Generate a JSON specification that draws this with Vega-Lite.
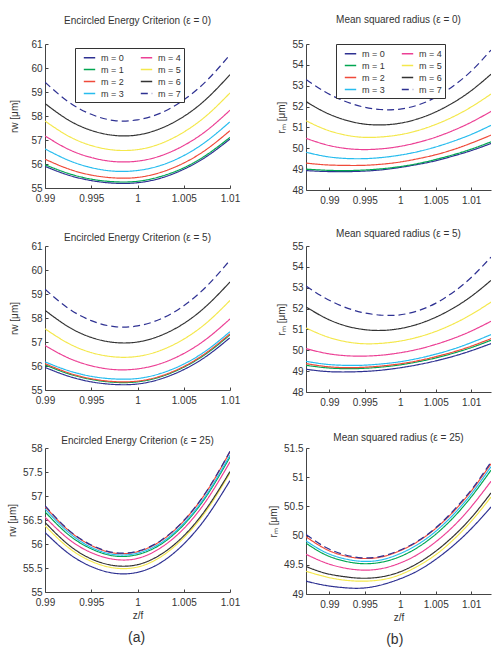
{
"$schema": "https://vega.github.io/schema/vega-lite/v6.json",
"padding": {"left": 7, "top": 15, "right": 5, "bottom": 3},
"spacing": 28,
"datasets": {
"a0": [
{"m":0,"x":0.99,"y":55.90},{"m":0,"x":0.9925,"y":55.54},{"m":0,"x":0.995,"y":55.31},{"m":0,"x":0.9975,"y":55.20},{"m":0,"x":1,"y":55.22},{"m":0,"x":1.0025,"y":55.41},{"m":0,"x":1.005,"y":55.78},{"m":0,"x":1.0075,"y":56.32},{"m":0,"x":1.01,"y":57.04},
{"m":1,"x":0.99,"y":55.97},{"m":1,"x":0.9925,"y":55.61},{"m":1,"x":0.995,"y":55.37},{"m":1,"x":0.9975,"y":55.26},{"m":1,"x":1,"y":55.28},{"m":1,"x":1.0025,"y":55.48},{"m":1,"x":1.005,"y":55.84},{"m":1,"x":1.0075,"y":56.39},{"m":1,"x":1.01,"y":57.11},
{"m":2,"x":0.99,"y":56.20},{"m":2,"x":0.9925,"y":55.80},{"m":2,"x":0.995,"y":55.54},{"m":2,"x":0.9975,"y":55.42},{"m":2,"x":1,"y":55.44},{"m":2,"x":1.0025,"y":55.65},{"m":2,"x":1.005,"y":56.04},{"m":2,"x":1.0075,"y":56.62},{"m":2,"x":1.01,"y":57.39},
{"m":3,"x":0.99,"y":56.63},{"m":3,"x":0.9925,"y":56.16},{"m":3,"x":0.995,"y":55.85},{"m":3,"x":0.9975,"y":55.70},{"m":3,"x":1,"y":55.73},{"m":3,"x":1.0025,"y":55.94},{"m":3,"x":1.005,"y":56.35},{"m":3,"x":1.0075,"y":56.96},{"m":3,"x":1.01,"y":57.76},
{"m":4,"x":0.99,"y":57.17},{"m":4,"x":0.9925,"y":56.62},{"m":4,"x":0.995,"y":56.27},{"m":4,"x":0.9975,"y":56.10},{"m":4,"x":1,"y":56.12},{"m":4,"x":1.0025,"y":56.34},{"m":4,"x":1.005,"y":56.77},{"m":4,"x":1.0075,"y":57.40},{"m":4,"x":1.01,"y":58.24},
{"m":5,"x":0.99,"y":57.79},{"m":5,"x":0.9925,"y":57.17},{"m":5,"x":0.995,"y":56.77},{"m":5,"x":0.9975,"y":56.58},{"m":5,"x":1,"y":56.60},{"m":5,"x":1.0025,"y":56.85},{"m":5,"x":1.005,"y":57.33},{"m":5,"x":1.0075,"y":58.03},{"m":5,"x":1.01,"y":58.96},
{"m":6,"x":0.99,"y":58.52},{"m":6,"x":0.9925,"y":57.84},{"m":6,"x":0.995,"y":57.40},{"m":6,"x":0.9975,"y":57.19},{"m":6,"x":1,"y":57.21},{"m":6,"x":1.0025,"y":57.48},{"m":6,"x":1.005,"y":57.98},{"m":6,"x":1.0075,"y":58.73},{"m":6,"x":1.01,"y":59.72},
{"m":7,"x":0.99,"y":59.41},{"m":7,"x":0.9925,"y":58.60},{"m":7,"x":0.995,"y":58.07},{"m":7,"x":0.9975,"y":57.81},{"m":7,"x":1,"y":57.84},{"m":7,"x":1.0025,"y":58.12},{"m":7,"x":1.005,"y":58.67},{"m":7,"x":1.0075,"y":59.48},{"m":7,"x":1.01,"y":60.55}
],
"a5": [
{"m":0,"x":0.99,"y":55.94},{"m":0,"x":0.9925,"y":55.58},{"m":0,"x":0.995,"y":55.34},{"m":0,"x":0.9975,"y":55.23},{"m":0,"x":1,"y":55.25},{"m":0,"x":1.0025,"y":55.46},{"m":0,"x":1.005,"y":55.85},{"m":0,"x":1.0075,"y":56.42},{"m":0,"x":1.01,"y":57.18},
{"m":1,"x":0.99,"y":56.05},{"m":1,"x":0.9925,"y":55.68},{"m":1,"x":0.995,"y":55.44},{"m":1,"x":0.9975,"y":55.32},{"m":1,"x":1,"y":55.34},{"m":1,"x":1.0025,"y":55.55},{"m":1,"x":1.005,"y":55.95},{"m":1,"x":1.0075,"y":56.53},{"m":1,"x":1.01,"y":57.30},
{"m":2,"x":0.99,"y":56.10},{"m":2,"x":0.9925,"y":55.72},{"m":2,"x":0.995,"y":55.47},{"m":2,"x":0.9975,"y":55.35},{"m":2,"x":1,"y":55.37},{"m":2,"x":1.0025,"y":55.58},{"m":2,"x":1.005,"y":55.98},{"m":2,"x":1.0075,"y":56.57},{"m":2,"x":1.01,"y":57.34},
{"m":3,"x":0.99,"y":56.17},{"m":3,"x":0.9925,"y":55.81},{"m":3,"x":0.995,"y":55.57},{"m":3,"x":0.9975,"y":55.46},{"m":3,"x":1,"y":55.48},{"m":3,"x":1.0025,"y":55.69},{"m":3,"x":1.005,"y":56.08},{"m":3,"x":1.0075,"y":56.66},{"m":3,"x":1.01,"y":57.43},
{"m":4,"x":0.99,"y":56.85},{"m":4,"x":0.9925,"y":56.34},{"m":4,"x":0.995,"y":56.01},{"m":4,"x":0.9975,"y":55.85},{"m":4,"x":1,"y":55.88},{"m":4,"x":1.0025,"y":56.10},{"m":4,"x":1.005,"y":56.52},{"m":4,"x":1.0075,"y":57.14},{"m":4,"x":1.01,"y":57.96},
{"m":5,"x":0.99,"y":57.55},{"m":5,"x":0.9925,"y":56.95},{"m":5,"x":0.995,"y":56.56},{"m":5,"x":0.9975,"y":56.38},{"m":5,"x":1,"y":56.40},{"m":5,"x":1.0025,"y":56.65},{"m":5,"x":1.005,"y":57.12},{"m":5,"x":1.0075,"y":57.81},{"m":5,"x":1.01,"y":58.73},
{"m":6,"x":0.99,"y":58.32},{"m":6,"x":0.9925,"y":57.64},{"m":6,"x":0.995,"y":57.19},{"m":6,"x":0.9975,"y":56.98},{"m":6,"x":1,"y":57.00},{"m":6,"x":1.0025,"y":57.27},{"m":6,"x":1.005,"y":57.77},{"m":6,"x":1.0075,"y":58.52},{"m":6,"x":1.01,"y":59.50},
{"m":7,"x":0.99,"y":59.20},{"m":7,"x":0.9925,"y":58.41},{"m":7,"x":0.995,"y":57.89},{"m":7,"x":0.9975,"y":57.64},{"m":7,"x":1,"y":57.67},{"m":7,"x":1.0025,"y":57.96},{"m":7,"x":1.005,"y":58.51},{"m":7,"x":1.0075,"y":59.33},{"m":7,"x":1.01,"y":60.41}
],
"a25": [
{"m":0,"x":0.99,"y":56.24},{"m":0,"x":0.9925,"y":55.81},{"m":0,"x":0.995,"y":55.53},{"m":0,"x":0.9975,"y":55.39},{"m":0,"x":1,"y":55.41},{"m":0,"x":1.0025,"y":55.61},{"m":0,"x":1.005,"y":56.00},{"m":0,"x":1.0075,"y":56.57},{"m":0,"x":1.01,"y":57.32},
{"m":1,"x":0.99,"y":56.67},{"m":1,"x":0.9925,"y":56.20},{"m":1,"x":0.995,"y":55.90},{"m":1,"x":0.9975,"y":55.75},{"m":1,"x":1,"y":55.78},{"m":1,"x":1.0025,"y":55.99},{"m":1,"x":1.005,"y":56.40},{"m":1,"x":1.0075,"y":57.01},{"m":1,"x":1.01,"y":57.81},
{"m":2,"x":0.99,"y":56.78},{"m":2,"x":0.9925,"y":56.29},{"m":2,"x":0.995,"y":55.97},{"m":2,"x":0.9975,"y":55.81},{"m":2,"x":1,"y":55.84},{"m":2,"x":1.0025,"y":56.06},{"m":2,"x":1.005,"y":56.48},{"m":2,"x":1.0075,"y":57.10},{"m":2,"x":1.01,"y":57.92},
{"m":3,"x":0.99,"y":56.73},{"m":3,"x":0.9925,"y":56.25},{"m":3,"x":0.995,"y":55.93},{"m":3,"x":0.9975,"y":55.78},{"m":3,"x":1,"y":55.81},{"m":3,"x":1.0025,"y":56.02},{"m":3,"x":1.005,"y":56.43},{"m":3,"x":1.0075,"y":57.04},{"m":3,"x":1.01,"y":57.85},
{"m":4,"x":0.99,"y":56.56},{"m":4,"x":0.9925,"y":56.11},{"m":4,"x":0.995,"y":55.82},{"m":4,"x":0.9975,"y":55.68},{"m":4,"x":1,"y":55.70},{"m":4,"x":1.0025,"y":55.92},{"m":4,"x":1.005,"y":56.32},{"m":4,"x":1.0075,"y":56.92},{"m":4,"x":1.01,"y":57.71},
{"m":5,"x":0.99,"y":56.38},{"m":5,"x":0.9925,"y":55.93},{"m":5,"x":0.995,"y":55.64},{"m":5,"x":0.9975,"y":55.50},{"m":5,"x":1,"y":55.52},{"m":5,"x":1.0025,"y":55.73},{"m":5,"x":1.005,"y":56.13},{"m":5,"x":1.0075,"y":56.71},{"m":5,"x":1.01,"y":57.48},
{"m":6,"x":0.99,"y":56.45},{"m":6,"x":0.9925,"y":55.99},{"m":6,"x":0.995,"y":55.69},{"m":6,"x":0.9975,"y":55.55},{"m":6,"x":1,"y":55.57},{"m":6,"x":1.0025,"y":55.78},{"m":6,"x":1.005,"y":56.17},{"m":6,"x":1.0075,"y":56.75},{"m":6,"x":1.01,"y":57.51},
{"m":7,"x":0.99,"y":56.80},{"m":7,"x":0.9925,"y":56.30},{"m":7,"x":0.995,"y":55.98},{"m":7,"x":0.9975,"y":55.82},{"m":7,"x":1,"y":55.85},{"m":7,"x":1.0025,"y":56.07},{"m":7,"x":1.005,"y":56.49},{"m":7,"x":1.0075,"y":57.11},{"m":7,"x":1.01,"y":57.93}
],
"b0": [
{"m":0,"x":0.9867,"y":48.93},{"m":0,"x":0.98931,"y":48.89},{"m":0,"x":0.99192,"y":48.88},{"m":0,"x":0.99453,"y":48.90},{"m":0,"x":0.99714,"y":48.96},{"m":0,"x":0.99975,"y":49.07},{"m":0,"x":1.00236,"y":49.22},{"m":0,"x":1.00497,"y":49.40},{"m":0,"x":1.00758,"y":49.64},{"m":0,"x":1.01019,"y":49.91},{"m":0,"x":1.0128,"y":50.23},
{"m":1,"x":0.9867,"y":49.00},{"m":1,"x":0.98931,"y":48.95},{"m":1,"x":0.99192,"y":48.93},{"m":1,"x":0.99453,"y":48.95},{"m":1,"x":0.99714,"y":49.01},{"m":1,"x":0.99975,"y":49.11},{"m":1,"x":1.00236,"y":49.26},{"m":1,"x":1.00497,"y":49.46},{"m":1,"x":1.00758,"y":49.70},{"m":1,"x":1.01019,"y":49.98},{"m":1,"x":1.0128,"y":50.31},
{"m":2,"x":0.9867,"y":49.29},{"m":2,"x":0.98931,"y":49.21},{"m":2,"x":0.99192,"y":49.18},{"m":2,"x":0.99453,"y":49.18},{"m":2,"x":0.99714,"y":49.23},{"m":2,"x":0.99975,"y":49.33},{"m":2,"x":1.00236,"y":49.49},{"m":2,"x":1.00497,"y":49.69},{"m":2,"x":1.00758,"y":49.95},{"m":2,"x":1.01019,"y":50.27},{"m":2,"x":1.0128,"y":50.63},
{"m":3,"x":0.9867,"y":49.81},{"m":3,"x":0.98931,"y":49.62},{"m":3,"x":0.99192,"y":49.52},{"m":3,"x":0.99453,"y":49.50},{"m":3,"x":0.99714,"y":49.55},{"m":3,"x":0.99975,"y":49.66},{"m":3,"x":1.00236,"y":49.83},{"m":3,"x":1.00497,"y":50.06},{"m":3,"x":1.00758,"y":50.35},{"m":3,"x":1.01019,"y":50.69},{"m":3,"x":1.0128,"y":51.10},
{"m":4,"x":0.9867,"y":50.48},{"m":4,"x":0.98931,"y":50.19},{"m":4,"x":0.99192,"y":50.01},{"m":4,"x":0.99453,"y":49.94},{"m":4,"x":0.99714,"y":49.97},{"m":4,"x":0.99975,"y":50.08},{"m":4,"x":1.00236,"y":50.27},{"m":4,"x":1.00497,"y":50.53},{"m":4,"x":1.00758,"y":50.87},{"m":4,"x":1.01019,"y":51.28},{"m":4,"x":1.0128,"y":51.77},
{"m":5,"x":0.9867,"y":51.32},{"m":5,"x":0.98931,"y":50.92},{"m":5,"x":0.99192,"y":50.66},{"m":5,"x":0.99453,"y":50.53},{"m":5,"x":0.99714,"y":50.54},{"m":5,"x":0.99975,"y":50.64},{"m":5,"x":1.00236,"y":50.84},{"m":5,"x":1.00497,"y":51.14},{"m":5,"x":1.00758,"y":51.53},{"m":5,"x":1.01019,"y":52.02},{"m":5,"x":1.0128,"y":52.60},
{"m":6,"x":0.9867,"y":52.24},{"m":6,"x":0.98931,"y":51.74},{"m":6,"x":0.99192,"y":51.39},{"m":6,"x":0.99453,"y":51.18},{"m":6,"x":0.99714,"y":51.12},{"m":6,"x":0.99975,"y":51.19},{"m":6,"x":1.00236,"y":51.40},{"m":6,"x":1.00497,"y":51.74},{"m":6,"x":1.00758,"y":52.21},{"m":6,"x":1.01019,"y":52.81},{"m":6,"x":1.0128,"y":53.55},
{"m":7,"x":0.9867,"y":53.30},{"m":7,"x":0.98931,"y":52.72},{"m":7,"x":0.99192,"y":52.29},{"m":7,"x":0.99453,"y":52.00},{"m":7,"x":0.99714,"y":51.86},{"m":7,"x":0.99975,"y":51.87},{"m":7,"x":1.00236,"y":52.06},{"m":7,"x":1.00497,"y":52.44},{"m":7,"x":1.00758,"y":53.01},{"m":7,"x":1.01019,"y":53.76},{"m":7,"x":1.0128,"y":54.71}
],
"b5": [
{"m":0,"x":0.9867,"y":49.09},{"m":0,"x":0.98931,"y":48.99},{"m":0,"x":0.99192,"y":48.96},{"m":0,"x":0.99453,"y":48.98},{"m":0,"x":0.99714,"y":49.04},{"m":0,"x":0.99975,"y":49.15},{"m":0,"x":1.00236,"y":49.30},{"m":0,"x":1.00497,"y":49.49},{"m":0,"x":1.00758,"y":49.72},{"m":0,"x":1.01019,"y":50.00},{"m":0,"x":1.0128,"y":50.32},
{"m":1,"x":0.9867,"y":49.28},{"m":1,"x":0.98931,"y":49.17},{"m":1,"x":0.99192,"y":49.12},{"m":1,"x":0.99453,"y":49.13},{"m":1,"x":0.99714,"y":49.19},{"m":1,"x":0.99975,"y":49.29},{"m":1,"x":1.00236,"y":49.44},{"m":1,"x":1.00497,"y":49.63},{"m":1,"x":1.00758,"y":49.87},{"m":1,"x":1.01019,"y":50.15},{"m":1,"x":1.0128,"y":50.48},
{"m":2,"x":0.9867,"y":49.36},{"m":2,"x":0.98931,"y":49.23},{"m":2,"x":0.99192,"y":49.17},{"m":2,"x":0.99453,"y":49.18},{"m":2,"x":0.99714,"y":49.24},{"m":2,"x":0.99975,"y":49.34},{"m":2,"x":1.00236,"y":49.49},{"m":2,"x":1.00497,"y":49.69},{"m":2,"x":1.00758,"y":49.93},{"m":2,"x":1.01019,"y":50.22},{"m":2,"x":1.0128,"y":50.56},
{"m":3,"x":0.9867,"y":49.47},{"m":3,"x":0.98931,"y":49.34},{"m":3,"x":0.99192,"y":49.28},{"m":3,"x":0.99453,"y":49.28},{"m":3,"x":0.99714,"y":49.34},{"m":3,"x":0.99975,"y":49.44},{"m":3,"x":1.00236,"y":49.60},{"m":3,"x":1.00497,"y":49.81},{"m":3,"x":1.00758,"y":50.07},{"m":3,"x":1.01019,"y":50.39},{"m":3,"x":1.0128,"y":50.75},
{"m":4,"x":0.9867,"y":50.08},{"m":4,"x":0.98931,"y":49.87},{"m":4,"x":0.99192,"y":49.75},{"m":4,"x":0.99453,"y":49.72},{"m":4,"x":0.99714,"y":49.76},{"m":4,"x":0.99975,"y":49.87},{"m":4,"x":1.00236,"y":50.04},{"m":4,"x":1.00497,"y":50.28},{"m":4,"x":1.00758,"y":50.58},{"m":4,"x":1.01019,"y":50.95},{"m":4,"x":1.0128,"y":51.39},
{"m":5,"x":0.9867,"y":51.07},{"m":5,"x":0.98931,"y":50.69},{"m":5,"x":0.99192,"y":50.44},{"m":5,"x":0.99453,"y":50.32},{"m":5,"x":0.99714,"y":50.33},{"m":5,"x":0.99975,"y":50.43},{"m":5,"x":1.00236,"y":50.62},{"m":5,"x":1.00497,"y":50.90},{"m":5,"x":1.00758,"y":51.28},{"m":5,"x":1.01019,"y":51.75},{"m":5,"x":1.0128,"y":52.31},
{"m":6,"x":0.9867,"y":52.08},{"m":6,"x":0.98931,"y":51.57},{"m":6,"x":0.99192,"y":51.21},{"m":6,"x":0.99453,"y":51.01},{"m":6,"x":0.99714,"y":50.95},{"m":6,"x":0.99975,"y":51.03},{"m":6,"x":1.00236,"y":51.24},{"m":6,"x":1.00497,"y":51.58},{"m":6,"x":1.00758,"y":52.04},{"m":6,"x":1.01019,"y":52.63},{"m":6,"x":1.0128,"y":53.35},
{"m":7,"x":0.9867,"y":53.08},{"m":7,"x":0.98931,"y":52.52},{"m":7,"x":0.99192,"y":52.10},{"m":7,"x":0.99453,"y":51.82},{"m":7,"x":0.99714,"y":51.69},{"m":7,"x":0.99975,"y":51.69},{"m":7,"x":1.00236,"y":51.88},{"m":7,"x":1.00497,"y":52.25},{"m":7,"x":1.00758,"y":52.81},{"m":7,"x":1.01019,"y":53.55},{"m":7,"x":1.0128,"y":54.47}
],
"b25": [
{"m":0,"x":0.9867,"y":49.22},{"m":0,"x":0.98931,"y":49.15},{"m":0,"x":0.99192,"y":49.11},{"m":0,"x":0.99453,"y":49.10},{"m":0,"x":0.99714,"y":49.15},{"m":0,"x":0.99975,"y":49.25},{"m":0,"x":1.00236,"y":49.39},{"m":0,"x":1.00497,"y":49.59},{"m":0,"x":1.00758,"y":49.84},{"m":0,"x":1.01019,"y":50.14},{"m":0,"x":1.0128,"y":50.49},
{"m":1,"x":0.9867,"y":49.87},{"m":1,"x":0.98931,"y":49.68},{"m":1,"x":0.99192,"y":49.57},{"m":1,"x":0.99453,"y":49.52},{"m":1,"x":0.99714,"y":49.54},{"m":1,"x":0.99975,"y":49.63},{"m":1,"x":1.00236,"y":49.79},{"m":1,"x":1.00497,"y":50.02},{"m":1,"x":1.00758,"y":50.32},{"m":1,"x":1.01019,"y":50.69},{"m":1,"x":1.0128,"y":51.12},
{"m":2,"x":0.9867,"y":49.98},{"m":2,"x":0.98931,"y":49.78},{"m":2,"x":0.99192,"y":49.66},{"m":2,"x":0.99453,"y":49.61},{"m":2,"x":0.99714,"y":49.63},{"m":2,"x":0.99975,"y":49.73},{"m":2,"x":1.00236,"y":49.89},{"m":2,"x":1.00497,"y":50.12},{"m":2,"x":1.00758,"y":50.42},{"m":2,"x":1.01019,"y":50.79},{"m":2,"x":1.0128,"y":51.23},
{"m":3,"x":0.9867,"y":49.91},{"m":3,"x":0.98931,"y":49.72},{"m":3,"x":0.99192,"y":49.61},{"m":3,"x":0.99453,"y":49.56},{"m":3,"x":0.99714,"y":49.58},{"m":3,"x":0.99975,"y":49.68},{"m":3,"x":1.00236,"y":49.84},{"m":3,"x":1.00497,"y":50.07},{"m":3,"x":1.00758,"y":50.37},{"m":3,"x":1.01019,"y":50.74},{"m":3,"x":1.0128,"y":51.18},
{"m":4,"x":0.9867,"y":49.68},{"m":4,"x":0.98931,"y":49.54},{"m":4,"x":0.99192,"y":49.45},{"m":4,"x":0.99453,"y":49.41},{"m":4,"x":0.99714,"y":49.43},{"m":4,"x":0.99975,"y":49.52},{"m":4,"x":1.00236,"y":49.67},{"m":4,"x":1.00497,"y":49.89},{"m":4,"x":1.00758,"y":50.17},{"m":4,"x":1.01019,"y":50.52},{"m":4,"x":1.0128,"y":50.93},
{"m":5,"x":0.9867,"y":49.39},{"m":5,"x":0.98931,"y":49.30},{"m":5,"x":0.99192,"y":49.24},{"m":5,"x":0.99453,"y":49.22},{"m":5,"x":0.99714,"y":49.24},{"m":5,"x":0.99975,"y":49.32},{"m":5,"x":1.00236,"y":49.47},{"m":5,"x":1.00497,"y":49.67},{"m":5,"x":1.00758,"y":49.94},{"m":5,"x":1.01019,"y":50.27},{"m":5,"x":1.0128,"y":50.66},
{"m":6,"x":0.9867,"y":49.47},{"m":6,"x":0.98931,"y":49.36},{"m":6,"x":0.99192,"y":49.30},{"m":6,"x":0.99453,"y":49.27},{"m":6,"x":0.99714,"y":49.29},{"m":6,"x":0.99975,"y":49.37},{"m":6,"x":1.00236,"y":49.52},{"m":6,"x":1.00497,"y":49.73},{"m":6,"x":1.00758,"y":50.00},{"m":6,"x":1.01019,"y":50.33},{"m":6,"x":1.0128,"y":50.73},
{"m":7,"x":0.9867,"y":50.02},{"m":7,"x":0.98931,"y":49.81},{"m":7,"x":0.99192,"y":49.68},{"m":7,"x":0.99453,"y":49.62},{"m":7,"x":0.99714,"y":49.64},{"m":7,"x":0.99975,"y":49.74},{"m":7,"x":1.00236,"y":49.90},{"m":7,"x":1.00497,"y":50.13},{"m":7,"x":1.00758,"y":50.44},{"m":7,"x":1.01019,"y":50.81},{"m":7,"x":1.0128,"y":51.26}
]
},
"resolve": {"scale": {"color": "independent", "strokeDash": "independent"}},
"hconcat": [
{
"bounds": "flush",
"spacing": 58,
"resolve": {"scale": {"color": "independent", "strokeDash": "independent"}},
"title": {"text": "(a)", "orient": "bottom", "anchor": "middle", "fontSize": 14, "offset": 11, "dx": 13},
"vconcat": [
{
"width": 185, "height": 144,
"title": {"text": "Encircled Energy Criterion (ε = 0)", "frame": "group", "offset": 13},
"data": {"name": "a0"},
"mark": {"type": "line", "interpolate": "natural", "strokeWidth": 1.2, "clip": true},
"encoding": {
"x": {"field": "x", "type": "quantitative", "scale": {"domain": [0.99, 1.01], "nice": false, "zero": false}, "axis": {"values": [0.99, 0.995, 1, 1.005, 1.01], "format": "~f", "title": null}},
"y": {"field": "y", "type": "quantitative", "scale": {"domain": [55, 61], "nice": false, "zero": false}, "axis": {"values": [55, 56, 57, 58, 59, 60, 61], "format": "~f", "title": "rw [μm]", "titlePadding": 11}},
"color": {"field": "m", "type": "nominal", "scale": {"domain": [0, 1, 2, 3, 4, 5, 6, 7], "range": ["#2e3192", "#00a651", "#f04a3a", "#27bcee", "#ec4095", "#f4e84c", "#333333", "#2e3192"]}, "legend": {"orient": "none", "legendX": 30, "legendY": 4, "columns": 2, "title": null, "symbolType": "stroke", "symbolSize": 130, "symbolStrokeWidth": 1.4, "labelFontSize": 9, "labelExpr": "'m = ' + datum.label", "padding": 3, "symbolOffset": 5, "strokeColor": "#333", "fillColor": "white", "rowPadding": -2.5, "columnPadding": 11, "labelOffset": 5}},
"strokeDash": {"field": "m", "type": "nominal", "scale": {"domain": [0, 1, 2, 3, 4, 5, 6, 7], "range": [[1, 0], [1, 0], [1, 0], [1, 0], [1, 0], [1, 0], [1, 0], [7, 4]]}, "legend": {"orient": "none", "legendX": 30, "legendY": 4, "columns": 2, "title": null, "symbolType": "stroke", "symbolSize": 130, "symbolStrokeWidth": 1.4, "labelFontSize": 9, "labelExpr": "'m = ' + datum.label", "padding": 3, "symbolOffset": 5, "strokeColor": "#333", "fillColor": "white", "rowPadding": -2.5, "columnPadding": 11, "labelOffset": 5}}
}
},
{
"width": 185, "height": 144,
"title": {"text": "Encircled Energy Criterion (ε = 5)", "frame": "group", "offset": 0, "dy": 2},
"data": {"name": "a5"},
"mark": {"type": "line", "interpolate": "natural", "strokeWidth": 1.2, "clip": true},
"encoding": {
"x": {"field": "x", "type": "quantitative", "scale": {"domain": [0.99, 1.01], "nice": false, "zero": false}, "axis": {"values": [0.99, 0.995, 1, 1.005, 1.01], "format": "~f", "title": null}},
"y": {"field": "y", "type": "quantitative", "scale": {"domain": [55, 61], "nice": false, "zero": false}, "axis": {"values": [55, 56, 57, 58, 59, 60, 61], "format": "~f", "title": "rw [μm]", "titlePadding": 11}},
"color": {"field": "m", "type": "nominal", "scale": {"domain": [0, 1, 2, 3, 4, 5, 6, 7], "range": ["#2e3192", "#00a651", "#f04a3a", "#27bcee", "#ec4095", "#f4e84c", "#333333", "#2e3192"]}, "legend": null},
"strokeDash": {"field": "m", "type": "nominal", "scale": {"domain": [0, 1, 2, 3, 4, 5, 6, 7], "range": [[1, 0], [1, 0], [1, 0], [1, 0], [1, 0], [1, 0], [1, 0], [7, 4]]}, "legend": null}
}
},
{
"width": 185, "height": 144,
"title": {"text": "Encircled Energy Criterion (ε = 25)", "frame": "group", "offset": 0, "dy": 3},
"data": {"name": "a25"},
"mark": {"type": "line", "interpolate": "natural", "strokeWidth": 1.2, "clip": true},
"encoding": {
"x": {"field": "x", "type": "quantitative", "scale": {"domain": [0.99, 1.01], "nice": false, "zero": false}, "axis": {"values": [0.99, 0.995, 1, 1.005, 1.01], "format": "~f", "title": "z/f", "titlePadding": 3}},
"y": {"field": "y", "type": "quantitative", "scale": {"domain": [55, 58], "nice": false, "zero": false}, "axis": {"values": [55, 55.5, 56, 56.5, 57, 57.5, 58], "format": "~f", "title": "rw [μm]", "titlePadding": 5}},
"color": {"field": "m", "type": "nominal", "scale": {"domain": [0, 1, 2, 3, 4, 5, 6, 7], "range": ["#2e3192", "#00a651", "#f04a3a", "#27bcee", "#ec4095", "#f4e84c", "#333333", "#2e3192"]}, "legend": null},
"strokeDash": {"field": "m", "type": "nominal", "scale": {"domain": [0, 1, 2, 3, 4, 5, 6, 7], "range": [[1, 0], [1, 0], [1, 0], [1, 0], [1, 0], [1, 0], [1, 0], [7, 4]]}, "legend": null}
}
}
]
},
{
"bounds": "flush",
"spacing": 56,
"resolve": {"scale": {"color": "independent", "strokeDash": "independent"}},
"title": {"text": "(b)", "orient": "bottom", "anchor": "middle", "fontSize": 14, "offset": 11, "dx": 15},
"vconcat": [
{
"width": 185, "height": 146,
"title": {"text": "Mean squared radius (ε = 0)", "frame": "group", "offset": 14},
"data": {"name": "b0"},
"mark": {"type": "line", "interpolate": "natural", "strokeWidth": 1.2, "clip": true},
"encoding": {
"x": {"field": "x", "type": "quantitative", "scale": {"domain": [0.9867, 1.0128], "nice": false, "zero": false}, "axis": {"values": [0.99, 0.995, 1, 1.005, 1.01], "format": "~f", "title": null}},
"y": {"field": "y", "type": "quantitative", "scale": {"domain": [48, 55], "nice": false, "zero": false}, "axis": {"values": [48, 49, 50, 51, 52, 53, 54, 55], "format": "~f", "title": "rₘ [μm]", "titlePadding": 5}},
"color": {"field": "m", "type": "nominal", "scale": {"domain": [0, 1, 2, 3, 4, 5, 6, 7], "range": ["#2e3192", "#00a651", "#f04a3a", "#27bcee", "#ec4095", "#f4e84c", "#333333", "#2e3192"]}, "legend": {"orient": "none", "legendX": 30, "legendY": 0, "columns": 2, "title": null, "symbolType": "stroke", "symbolSize": 130, "symbolStrokeWidth": 1.4, "labelFontSize": 9, "labelExpr": "'m = ' + datum.label", "padding": 3, "symbolOffset": 5, "strokeColor": "#333", "fillColor": "white", "rowPadding": -2.5, "columnPadding": 11, "labelOffset": 5}},
"strokeDash": {"field": "m", "type": "nominal", "scale": {"domain": [0, 1, 2, 3, 4, 5, 6, 7], "range": [[1, 0], [1, 0], [1, 0], [1, 0], [1, 0], [1, 0], [1, 0], [7, 4]]}, "legend": {"orient": "none", "legendX": 30, "legendY": 0, "columns": 2, "title": null, "symbolType": "stroke", "symbolSize": 130, "symbolStrokeWidth": 1.4, "labelFontSize": 9, "labelExpr": "'m = ' + datum.label", "padding": 3, "symbolOffset": 5, "strokeColor": "#333", "fillColor": "white", "rowPadding": -2.5, "columnPadding": 11, "labelOffset": 5}}
}
},
{
"width": 185, "height": 146,
"title": {"text": "Mean squared radius (ε = 5)", "frame": "group", "offset": 2.5},
"data": {"name": "b5"},
"mark": {"type": "line", "interpolate": "natural", "strokeWidth": 1.2, "clip": true},
"encoding": {
"x": {"field": "x", "type": "quantitative", "scale": {"domain": [0.9867, 1.0128], "nice": false, "zero": false}, "axis": {"values": [0.99, 0.995, 1, 1.005, 1.01], "format": "~f", "title": null}},
"y": {"field": "y", "type": "quantitative", "scale": {"domain": [48, 55], "nice": false, "zero": false}, "axis": {"values": [48, 49, 50, 51, 52, 53, 54, 55], "format": "~f", "title": "rₘ [μm]", "titlePadding": 5}},
"color": {"field": "m", "type": "nominal", "scale": {"domain": [0, 1, 2, 3, 4, 5, 6, 7], "range": ["#2e3192", "#00a651", "#f04a3a", "#27bcee", "#ec4095", "#f4e84c", "#333333", "#2e3192"]}, "legend": null},
"strokeDash": {"field": "m", "type": "nominal", "scale": {"domain": [0, 1, 2, 3, 4, 5, 6, 7], "range": [[1, 0], [1, 0], [1, 0], [1, 0], [1, 0], [1, 0], [1, 0], [7, 4]]}, "legend": null}
}
},
{
"width": 185, "height": 146,
"title": {"text": "Mean squared radius (ε = 25)", "frame": "group", "offset": 0.5},
"data": {"name": "b25"},
"mark": {"type": "line", "interpolate": "natural", "strokeWidth": 1.2, "clip": true},
"encoding": {
"x": {"field": "x", "type": "quantitative", "scale": {"domain": [0.9867, 1.0128], "nice": false, "zero": false}, "axis": {"values": [0.99, 0.995, 1, 1.005, 1.01], "format": "~f", "title": "z/f", "titlePadding": 3}},
"y": {"field": "y", "type": "quantitative", "scale": {"domain": [49, 51.5], "nice": false, "zero": false}, "axis": {"values": [49, 49.5, 50, 50.5, 51, 51.5], "format": "~f", "title": "rₘ [μm]", "titlePadding": 5}},
"color": {"field": "m", "type": "nominal", "scale": {"domain": [0, 1, 2, 3, 4, 5, 6, 7], "range": ["#2e3192", "#00a651", "#f04a3a", "#27bcee", "#ec4095", "#f4e84c", "#333333", "#2e3192"]}, "legend": null},
"strokeDash": {"field": "m", "type": "nominal", "scale": {"domain": [0, 1, 2, 3, 4, 5, 6, 7], "range": [[1, 0], [1, 0], [1, 0], [1, 0], [1, 0], [1, 0], [1, 0], [7, 4]]}, "legend": null}
}
}
]
}
],
"config": {
"font": "Liberation Sans",
"background": "white",
"view": {"stroke": null},
"axis": {"grid": false, "labelFlush": false, "labelFontSize": 10, "labelColor": "#333", "domainColor": "#444", "tickColor": "#444", "tickSize": -3, "labelPadding": 6, "titleFontSize": 10, "titleFontWeight": "normal", "titleColor": "#333", "labelFont": "Liberation Sans", "titleFont": "Liberation Sans"},
"axisX": {"labelPadding": 8},
"title": {"fontSize": 10, "fontWeight": "normal", "color": "#333", "font": "Liberation Sans"},
"legend": {"labelColor": "#333", "labelFont": "Liberation Sans"}
}
}
